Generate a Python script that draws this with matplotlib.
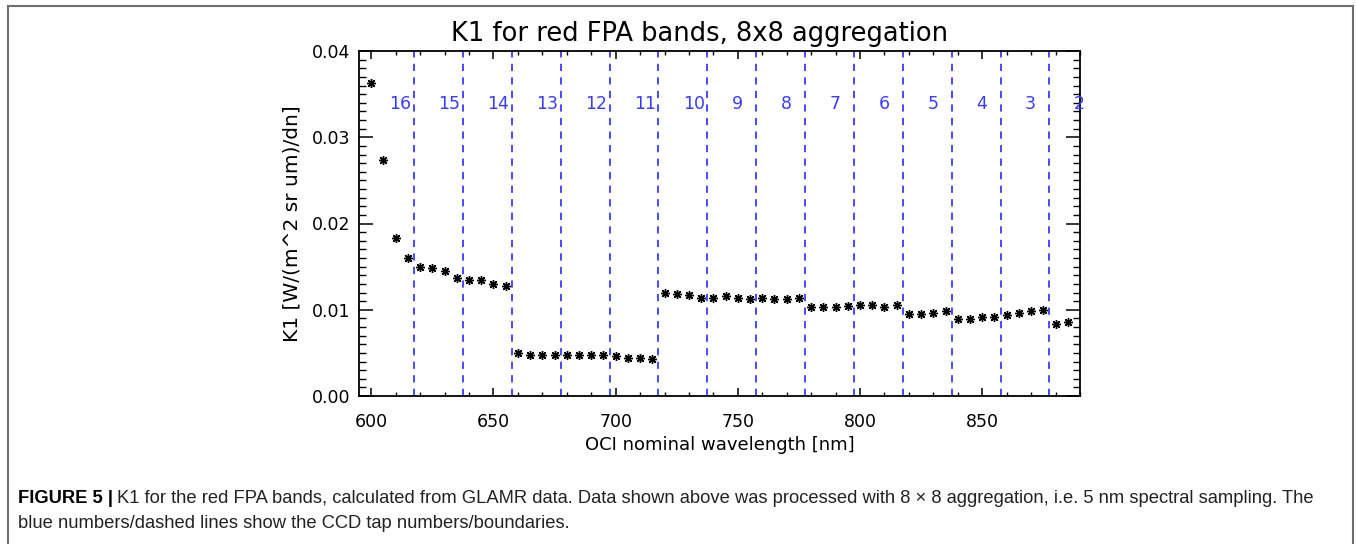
import matplotlib
matplotlib.use("Agg")
import matplotlib.pyplot as plt
from matplotlib.ticker import MultipleLocator, FormatStrFormatter
from matplotlib.lines import Line2D

# K1 coefficients for the red focal plane array, 5 nm sampling
wavelength = [600, 605, 610, 615, 620, 625, 630, 635, 640, 645,
              650, 655, 660, 665, 670, 675, 680, 685, 690, 695,
              700, 705, 710, 715, 720, 725, 730, 735, 740, 745,
              750, 755, 760, 765, 770, 775, 780, 785, 790, 795,
              800, 805, 810, 815, 820, 825, 830, 835, 840, 845,
              850, 855, 860, 865, 870, 875, 880, 885]
k1 = [0.0363, 0.0274, 0.0183, 0.0160, 0.0150, 0.0148, 0.0145, 0.0137, 0.0135, 0.0134,
      0.0130, 0.0127, 0.0050, 0.0048, 0.0048, 0.0048, 0.0047, 0.0047, 0.0048, 0.0048,
      0.0046, 0.0044, 0.0044, 0.0043, 0.0119, 0.0118, 0.0117, 0.0114, 0.0114, 0.0116,
      0.0114, 0.0113, 0.0114, 0.0113, 0.0112, 0.0114, 0.0103, 0.0103, 0.0103, 0.0104,
      0.0105, 0.0105, 0.0103, 0.0106, 0.0095, 0.0095, 0.0096, 0.0098, 0.0089, 0.0089,
      0.0092, 0.0092, 0.0094, 0.0096, 0.0099, 0.0100, 0.0083, 0.0086]

# CCD tap boundaries and tap numbers (labels placed at tap centres)
tap_boundaries = [617.5, 637.5, 657.5, 677.5, 697.5, 717.5, 737.5,
                  757.5, 777.5, 797.5, 817.5, 837.5, 857.5, 877.5]
tap_numbers = [16, 15, 14, 13, 12, 11, 10, 9, 8, 7, 6, 5, 4, 3, 2]
tap_centres = [607.5, 627.5, 647.5, 667.5, 687.5, 707.5, 727.5, 747.5,
               767.5, 787.5, 807.5, 827.5, 847.5, 867.5, 887.5]
tap_label_y = 0.0338

x_ticks = [600, 650, 700, 750, 800, 850]
y_ticks = [0.00, 0.01, 0.02, 0.03, 0.04]

title = "K1 for red FPA bands, 8x8 aggregation"
x_label = "OCI nominal wavelength [nm]"
y_label = "K1 [W/(m^2 sr um)/dn]"
caption_bold = "FIGURE 5 |"
caption_line1 = ("K1 for the red FPA bands, calculated from GLAMR data. Data shown above "
                 "was processed with 8 \u00d7 8 aggregation, i.e. 5 nm spectral sampling. The")
caption_line2 = "blue numbers/dashed lines show the CCD tap numbers/boundaries."

W, H = 1356, 544
fig = plt.figure(figsize=(W / 100, H / 100), dpi=100)


def fx(x):
    return x / W


def fy(y):
    return 1 - y / H


plt.rcParams['font.family'] = ['DejaVu Sans']
blue = '#3b3bff'

ax = fig.add_axes([fx(359), fy(396), fx(1080) - fx(359), fy(51) - fy(396)])
ax.plot(wavelength, k1, linestyle='none', marker=(8, 2, 0), markersize=6.5,
        markeredgewidth=1.0, color='black')

for b in tap_boundaries:
    ax.axvline(b, color=blue, linestyle=(0, (4, 3.5)), linewidth=1.3)
for n, c in zip(tap_numbers, tap_centres):
    ax.text(c, tap_label_y, str(n), color=blue, fontsize=12.5,
            ha='left', va='center', clip_on=False)

ax.set_xlim(595, 890)
ax.set_ylim(0.0, 0.04)
ax.set_xticks(x_ticks)
ax.set_yticks(y_ticks)
ax.yaxis.set_major_formatter(FormatStrFormatter('%.2f'))
ax.xaxis.set_minor_locator(MultipleLocator(10))
ax.yaxis.set_minor_locator(MultipleLocator(0.001))
ax.tick_params(axis='both', which='both', direction='in', top=True, right=True,
               labelsize=12.5, color='black')
ax.tick_params(axis='x', which='major', length=6, width=1.1, pad=12)
ax.tick_params(axis='x', which='minor', length=3, width=1.0)
ax.tick_params(axis='y', which='major', length=10, width=1.1, pad=6)
ax.tick_params(axis='y', which='minor', length=5, width=1.0)
for s in ax.spines.values():
    s.set_linewidth(1.3)

ax.set_xlabel(x_label, fontsize=13, labelpad=4)
ax.set_ylabel(y_label, fontsize=14.5, labelpad=8)

fig.text(fx(700), fy(41), title, fontsize=18.5, ha='center', va='baseline')

# caption below the chart
cap_family = 'Liberation Sans'
cap_size = 13.2
bold_txt = fig.text(fx(18), fy(503), caption_bold, fontsize=cap_size, family=cap_family,
                    weight='bold', ha='left', va='baseline')
renderer = fig.canvas.get_renderer()
bb = bold_txt.get_window_extent(renderer)
fig.text(fx(bb.x1 + 4), fy(503), caption_line1, fontsize=cap_size, family=cap_family,
         ha='left', va='baseline', color='#222222')
fig.text(fx(18), fy(528), caption_line2, fontsize=cap_size, family=cap_family,
         ha='left', va='baseline', color='#222222')

# outer frame
frame_color = '#6e6e6e'
fig.add_artist(Line2D([fx(8), fx(8)], [fy(6), 0], color=frame_color, linewidth=1.5))
fig.add_artist(Line2D([fx(8), fx(1353)], [fy(6), fy(6)], color=frame_color, linewidth=1.5))
fig.add_artist(Line2D([fx(1353), fx(1353)], [fy(6), 0], color=frame_color, linewidth=1.5))

fig.savefig('out.png', dpi=100)
